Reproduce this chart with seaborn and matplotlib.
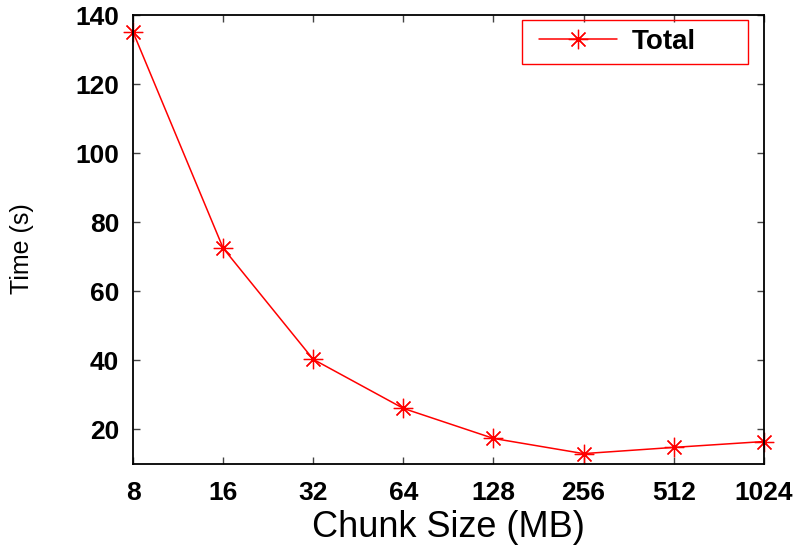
import numpy as np
import pandas as pd
import seaborn as sns
import matplotlib
matplotlib.use('Agg')
import matplotlib.pyplot as plt
from matplotlib.patches import Rectangle

chunk_mb = [8, 16, 32, 64, 128, 256, 512, 1024]
total_s = [135.1, 72.5, 40.3, 26.1, 17.4, 13.0, 14.8, 16.5]
y_ticks = [20, 40, 60, 80, 100, 120, 140]

df = pd.DataFrame({'chunk': chunk_mb, 'time': total_s, 'series': 'Total'})

sns.set_style('ticks')
plt.rcParams['font.family'] = ['Liberation Sans', 'DejaVu Sans']
plt.rcParams['text.color'] = 'black'
plt.rcParams['axes.labelcolor'] = 'black'
plt.rcParams['xtick.color'] = '#444444'
plt.rcParams['ytick.color'] = '#444444'
plt.rcParams['xtick.labelcolor'] = 'black'
plt.rcParams['ytick.labelcolor'] = 'black'

fig = plt.figure(figsize=(7.98, 5.5), dpi=100)
ax = fig.add_axes([0.1667, 0.1564, 0.7904, 0.8163])

sns.lineplot(data=df, x='chunk', y='time', hue='series', palette=['red'],
             marker=(8, 2, 0), markersize=14, markeredgewidth=0.9,
             markeredgecolor='red', linewidth=1.1, clip_on=False, ax=ax)

ax.set_xscale('log', base=2)
ax.set_xlim(8, 1024)
ax.set_ylim(10, 140)
ax.set_xticks(chunk_mb)
ax.set_xticklabels([str(c) for c in chunk_mb])
ax.minorticks_off()
ax.set_yticks(y_ticks)

for t in ax.get_xticklabels() + ax.get_yticklabels():
    t.set_fontweight('bold')
    t.set_fontsize(19)
ax.tick_params(direction='in', length=5, width=1, top=True, right=True, pad=10)
ax.tick_params(axis='x', pad=12)

for s in ax.spines.values():
    s.set_linewidth(1.3)
    s.set_color('black')
    s.set_visible(True)

ax.set_xlabel('Chunk Size (MB)', fontsize=26)
ax.xaxis.set_label_coords(0.5, -0.103)
ax.set_ylabel('Time (s)', fontsize=18)
ax.yaxis.set_label_coords(-0.157, 0.48)

leg = ax.legend(loc='center left', bbox_to_anchor=(0.6434, 0.9399),
                prop={'weight': 'bold', 'size': 20}, frameon=False,
                borderpad=0, borderaxespad=0, handlelength=2.8,
                handletextpad=0.55)
ax.add_patch(Rectangle((0.6165, 0.8909), 0.3582, 0.098, transform=ax.transAxes,
                       fill=False, edgecolor='red', linewidth=1.0, zorder=5))

fig.savefig('out.png', dpi=100)
